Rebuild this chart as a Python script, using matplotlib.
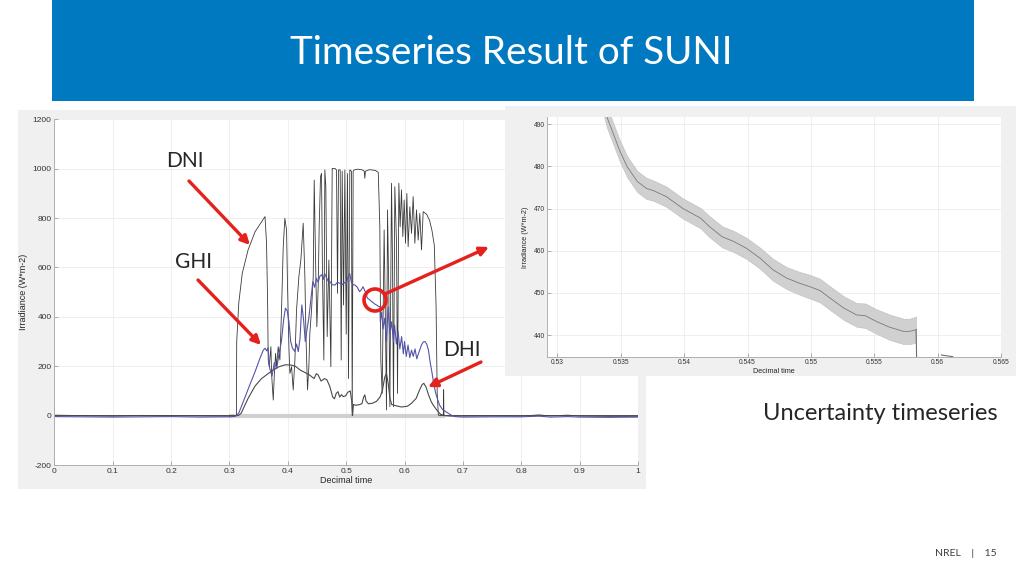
import matplotlib
matplotlib.use("Agg")
import matplotlib.pyplot as plt
from matplotlib.patches import Rectangle, Circle

plt.rcParams["axes.unicode_minus"] = False

# --- left chart: daily irradiance (decimal time, W/m2) ---
dni_t = [0, 0.05, 0.1, 0.15, 0.2, 0.25, 0.3, 0.311, 0.312, 0.3125, 0.316, 0.322, 0.332, 0.344,
         0.355, 0.361, 0.3636, 0.3654, 0.3665, 0.3682, 0.3711, 0.3722, 0.3751, 0.3768, 0.3791,
         0.3808, 0.3836, 0.3865, 0.3893, 0.3922, 0.3950, 0.3979, 0.3996, 0.4019, 0.4036, 0.4065,
         0.4093, 0.4122, 0.4150, 0.4190, 0.4224, 0.4264, 0.4293, 0.4310, 0.4338, 0.4361, 0.4378,
         0.4407, 0.4436, 0.4453, 0.4476, 0.4498, 0.4521, 0.4538, 0.4561, 0.4578, 0.4595, 0.4618,
         0.4635, 0.4652, 0.4675, 0.4704, 0.4738, 0.4761, 0.4807, 0.4835, 0.4852, 0.4869, 0.4898,
         0.4915, 0.4932, 0.4955, 0.4978, 0.5001, 0.5023, 0.5040, 0.5063, 0.5090, 0.5104, 0.5120,
         0.5138, 0.52, 0.528, 0.531, 0.532, 0.533, 0.54, 0.55, 0.555, 0.5577, 0.5594, 0.5617,
         0.5651, 0.5674, 0.5691, 0.5709, 0.5731, 0.5749, 0.5777, 0.5794, 0.5811, 0.5834, 0.5863,
         0.5880, 0.5903, 0.5925, 0.5948, 0.5971, 0.5994, 0.6017, 0.6040, 0.6062, 0.6091, 0.6120,
         0.6148, 0.6177, 0.6205, 0.6234, 0.6262, 0.6291, 0.632, 0.638, 0.643, 0.647, 0.651,
         0.654, 0.656, 0.658, 0.662, 0.6665, 0.667, 0.6675, 0.68, 0.75, 0.8, 0.83, 0.85, 0.88,
         0.9, 0.95, 1.0]
dni_v = [2, 0, -2, 1, 0, -1, -2, 0, 0, 300, 455, 576, 671, 745,
         785, 806, 698, 468, 225, 198, 279, 171, 63, 158, 252,
         198, 279, 225, 428, 684, 799, 752, 522, 279, 171, 198,
         104, 225, 428, 563, 630, 779, 563, 333, 104, 198, 333,
         428, 563, 954, 630, 360, 522, 765, 968, 981, 563, 225,
         995, 927, 320, 630, 198, 1001, 1001, 995, 495, 995, 995,
         225, 990, 448, 995, 330, 980, 150, 995, 990, 0, 990,
         995, 998, 995, 990, 961, 990, 996, 993, 985, 765, 225, 90,
         752, 360, 23, 833, 495, 36, 941, 630, 36, 927, 698,
         90, 941, 765, 914, 725, 873, 698, 900, 684, 846, 738,
         887, 698, 833, 711, 819, 671, 826, 815, 790, 750, 690,
         450, 90, 2, 0, 0, 105, 0, -2, -1, -2, 3, -1, 2,
         -2, -3, -3]

ghi_t = [0, 0.05, 0.1, 0.15, 0.2, 0.25, 0.3, 0.31, 0.316, 0.326, 0.335, 0.344, 0.352, 0.358,
         0.361, 0.364, 0.366, 0.369, 0.373, 0.377, 0.381, 0.385, 0.389, 0.393, 0.396, 0.399,
         0.402, 0.405, 0.408, 0.412, 0.415, 0.418, 0.421, 0.424, 0.427, 0.43, 0.433, 0.436,
         0.44, 0.443, 0.446, 0.449, 0.452, 0.455, 0.458, 0.461, 0.463, 0.466, 0.469, 0.472,
         0.476, 0.481, 0.485, 0.489, 0.493, 0.497, 0.50, 0.503, 0.506, 0.509, 0.512, 0.515,
         0.519, 0.523, 0.526, 0.529, 0.532, 0.535, 0.5355, 0.537, 0.540, 0.543, 0.546, 0.549,
         0.552, 0.555, 0.558, 0.5585, 0.561, 0.563, 0.566, 0.569, 0.572, 0.575, 0.578, 0.581,
         0.583, 0.586, 0.589, 0.592, 0.595, 0.598, 0.600, 0.603, 0.606, 0.609, 0.612, 0.615,
         0.618, 0.621, 0.623, 0.626, 0.629, 0.632, 0.635, 0.638, 0.641, 0.644, 0.647, 0.650,
         0.653, 0.656, 0.660, 0.665, 0.672, 0.68, 0.686, 0.7, 0.75, 0.8, 0.83, 0.85, 0.88,
         0.9, 0.95, 1.0]
ghi_v = [-4, -5, -6, -5, -4, -6, -5, -3, 10, 70, 125, 178, 230, 265,
         273, 262, 275, 192, 160, 215, 190, 250, 300, 390, 435, 425,
         380, 300, 273, 260, 290, 259, 313, 448, 390, 300, 350, 394,
         480, 543, 520, 556, 540, 565, 570, 552, 576, 560, 545, 543,
         530, 529, 540, 536, 530, 540, 532, 560, 576, 540, 530, 529,
         520, 502, 510, 522, 505, 492, 480, 474.8, 470, 463, 458, 452,
         448, 443, 441, 380, 420, 350, 394, 300, 440, 330, 380, 300,
         367, 290, 340, 270, 320, 250, 300, 240, 286, 235, 265, 240,
         270, 230, 245, 265, 286, 298, 300, 290, 265, 215, 175, 130,
         95, 70, 43, 25, 14, 2, -4, -6, -5, -5, -2, -6, -4,
         -6, -7, -6]

dhi_t = [0, 0.3, 0.315, 0.32, 0.332, 0.344, 0.355, 0.367, 0.375, 0.385, 0.396, 0.405, 0.413,
         0.421, 0.429, 0.437, 0.445, 0.449, 0.452, 0.457, 0.463, 0.467, 0.472, 0.477, 0.480,
         0.483, 0.486, 0.489, 0.492, 0.495, 0.499, 0.503, 0.507, 0.5095, 0.511, 0.5125, 0.516,
         0.522, 0.527, 0.530, 0.532, 0.534, 0.538, 0.545, 0.552, 0.558, 0.562, 0.566, 0.569,
         0.572, 0.575, 0.578, 0.585, 0.595, 0.605, 0.612, 0.620, 0.625, 0.630, 0.633, 0.637,
         0.641, 0.646, 0.650, 0.656, 0.662, 0.668, 1.0]
dhi_v = [0, 0, 0, 9, 70, 120, 150, 171, 185, 198, 206, 205, 200,
         185, 175, 165, 150, 170, 165, 140, 150, 145, 118, 75, 68,
         90, 97, 75, 85, 77, 80, 95, 100, 60, 0, 45, 42,
         44, 48, 75, 84, 60, 48, 50, 58, 75, 100, 155, 171,
         130, 70, 45, 40, 35, 38, 50, 70, 100, 125, 131, 115,
         85, 55, 40, 20, 5, 0, 0]

ref_t = [0.30, 0.67]
ref_v = [0, 0]

left_xticks = [0, 0.1, 0.2, 0.3, 0.4, 0.5, 0.6, 0.7, 0.8, 0.9, 1]
left_xlabels = ["0", "0.1", "0.2", "0.3", "0.4", "0.5", "0.6", "0.7", "0.8", "0.9", "1"]
left_yticks = [-200, 0, 200, 400, 600, 800, 1000, 1200]

# --- right chart: GHI with uncertainty band ---
unc_t = [0.5337, 0.5339, 0.5344, 0.5349, 0.5355, 0.5363, 0.5370, 0.5376, 0.5386, 0.5399,
         0.5413, 0.5420, 0.5430, 0.5439, 0.5449, 0.5460, 0.5470, 0.5481, 0.5491, 0.5499,
         0.5507, 0.5515, 0.5526, 0.5536, 0.5543, 0.5552, 0.5562, 0.5573, 0.5578, 0.5583]
unc_v = [494, 491.7, 487.8, 483.8, 479.9, 476.4, 474.8, 474.2, 472.8, 470.0,
         467.7, 465.7, 463.3, 462.2, 460.6, 458.2, 455.5, 453.5, 452.3, 451.5,
         450.6, 448.8, 446.4, 444.8, 444.6, 443.2, 441.9, 440.9, 440.9, 441.3]
unc_err = [2.5, 2.5, 2.5, 2.5, 2.5, 2.5, 2.5, 2.4, 2.4, 2.4,
           2.4, 2.5, 2.5, 2.5, 2.5, 2.5, 2.6, 2.6, 2.7, 2.8,
           2.8, 2.8, 2.8, 2.8, 2.9, 2.9, 3.0, 3.0, 3.0, 3.1]
drop_t = [0.5583, 0.5584]
drop_v = [441.3, 425]
tail_t = [0.5603, 0.5612]
tail_v = [435.3, 434.9]

right_xticks = [0.53, 0.535, 0.54, 0.545, 0.55, 0.555, 0.56, 0.565]
right_xlabels = ["0.53", "0.535", "0.54", "0.545", "0.55", "0.555", "0.56", "0.565"]
right_yticks = [440, 450, 460, 470, 480, 490]

W, H = 1024, 576
BLUE = "#0079c1"
PANEL = "#f0f0f0"
RED = "#e4211d"
TICKFONT = "Liberation Sans"


def box(x0, y0, x1, y1):
    # pixel box (top-left origin) -> figure fraction rect
    return [x0 / W, 1 - y1 / H, (x1 - x0) / W, (y1 - y0) / H]


def matlab_style(ax, fs):
    for s in ("top", "right"):
        ax.spines[s].set_visible(False)
    for s in ("left", "bottom"):
        ax.spines[s].set_color("#b0b0b0")
        ax.spines[s].set_linewidth(0.7)
    ax.grid(True, color="#ececec", lw=0.6)
    ax.set_axisbelow(True)
    ax.tick_params(direction="in", length=3, width=0.6, color="#a0a0a0",
                   labelsize=fs, labelcolor="#333333", pad=2)
    for lab in ax.get_xticklabels() + ax.get_yticklabels():
        lab.set_fontfamily(TICKFONT)


fig = plt.figure(figsize=(W / 100, H / 100), dpi=100)
fig.patch.set_facecolor("white")

# background layer: banner, left panel, slide texts
bg = fig.add_axes([0, 0, 1, 1], zorder=0)
bg.set_xlim(0, W)
bg.set_ylim(H, 0)
bg.axis("off")
bg.add_patch(Rectangle((52, 0), 922, 101, color=BLUE, lw=0))
bg.add_patch(Rectangle((18, 110), 628, 379, color=PANEL, lw=0))
bg.text(511, 53, "Timeseries Result of SUNI", color="white", fontsize=27.8,
        family="Lato", ha="center", va="center")
bg.text(880, 413, "Uncertainty timeseries", color="#262626", fontsize=17,
        family="Lato", ha="center", va="center")
bg.text(997, 554, "NREL    |    15", color="#404040", fontsize=7.5,
        family="Lato", ha="right", va="center")

# left chart
ax = fig.add_axes(box(54.3, 119.3, 638, 465), zorder=1)
ax.plot(ref_t, ref_v, color="#d0d0d0", lw=3, solid_capstyle="butt")
ax.plot(dni_t, dni_v, color="#3a3a3a", lw=0.6)
ax.plot(dhi_t, dhi_v, color="#4a4a4a", lw=0.8)
ax.plot(ghi_t, ghi_v, color="#5555a8", lw=0.8)
ax.set_xlim(0, 1)
ax.set_ylim(-200, 1200)
ax.set_xticks(left_xticks)
ax.set_xticklabels(left_xlabels)
ax.set_yticks(left_yticks)
ax.set_xlabel("Decimal time", fontsize=6.5, family=TICKFONT, color="#262626", labelpad=1)
ax.set_ylabel("Irradiance (W*m-2)", fontsize=6.5, family=TICKFONT, color="#262626", labelpad=3)
matlab_style(ax, 6)

# right panel + chart on top of the left one
rp = fig.add_axes(box(505, 106, 1016, 376), zorder=2)
rp.set_facecolor(PANEL)
rp.set_xticks([])
rp.set_yticks([])
for s in rp.spines.values():
    s.set_visible(False)

ax2 = fig.add_axes(box(547.3, 117.3, 1001, 356.7), zorder=3)
lo = [v - e for v, e in zip(unc_v, unc_err)]
hi = [v + e for v, e in zip(unc_v, unc_err)]
ax2.fill_between(unc_t, lo, hi, facecolor="#d0d0d0", edgecolor="#bdbdbd", lw=0.4)
ax2.plot(unc_t, unc_v, color="#7a7a7a", lw=0.6)
ax2.plot(drop_t, drop_v, color="#6e6e6e", lw=0.8)
ax2.plot(tail_t, tail_v, color="#6e6e6e", lw=0.8)
ax2.set_xlim(0.5292, 0.565)
ax2.set_ylim(434.9, 491.6)
ax2.set_xticks(right_xticks)
ax2.set_xticklabels(right_xlabels)
ax2.set_yticks(right_yticks)
ax2.set_xlabel("Decimal time", fontsize=5.2, family=TICKFONT, color="#262626", labelpad=1)
ax2.set_ylabel("Irradiance (W*m-2)", fontsize=5.2, family=TICKFONT, color="#262626", labelpad=3)
matlab_style(ax2, 4.8)

# annotations layer
ov = fig.add_axes([0, 0, 1, 1], zorder=4)
ov.set_xlim(0, W)
ov.set_ylim(H, 0)
ov.axis("off")
ov.patch.set_alpha(0)
arrow = dict(arrowstyle="-|>", color=RED, lw=2.4, mutation_scale=13,
             shrinkA=0, shrinkB=0)
ov.annotate("", xy=(250, 245), xytext=(189, 181), arrowprops=arrow)
ov.annotate("", xy=(261, 345), xytext=(198, 280), arrowprops=arrow)
ov.annotate("", xy=(428, 387), xytext=(481, 362), arrowprops=arrow)
ov.annotate("", xy=(489, 247), xytext=(385, 294), arrowprops=arrow)
ov.add_patch(Circle((375, 300), 11, fill=False, edgecolor=RED, lw=2.6))
for label, x, y in [("DNI", 185, 161), ("GHI", 194, 262), ("DHI", 462, 350)]:
    ov.text(x, y, label, fontsize=15, family="Lato", color="#262626",
            ha="center", va="center")

fig.savefig("out.png", dpi=100)
